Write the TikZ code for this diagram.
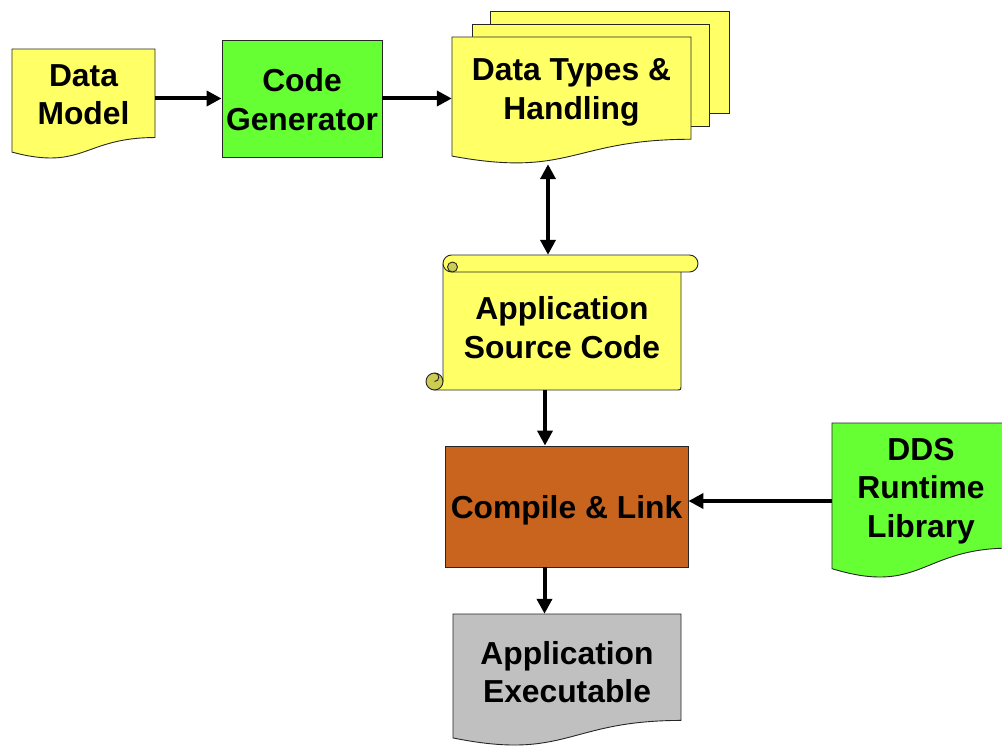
\documentclass[tikz,border=0pt]{standalone}
\usepackage{fontspec}
\setmainfont{Liberation Sans}
\usetikzlibrary{arrows.meta,fit}
\definecolor{docyellow}{HTML}{FFFF66}
\definecolor{cgreen}{HTML}{66FF33}
\definecolor{corange}{HTML}{C8641E}
\definecolor{cgray}{HTML}{C0C0C0}
\definecolor{curlc}{HTML}{CCCC52}
\newcommand\docpath[4]{(#1,#2) -- (#3,#2) -- (#3,{#2+0.802*(#4)}) .. controls ({(#1+#3)/2},{#2+0.802*(#4)}) and ({(#1+#3)/2},{#2+1.1075*(#4)}) .. (#1,{#2+0.934*(#4)}) -- cycle}
\begin{document}
\begin{tikzpicture}[x=1pt,y=-1pt,
  shp/.style={draw=black!85, line width=0.9pt},
  txt/.style={font=\bfseries\fontsize{31.8}{38.5}\selectfont, align=center, inner sep=0pt},
  bnd/.style={inner sep=0pt, draw=none},
  arr/.style={line width=4pt, -{Triangle[length=15pt,width=15pt]}},
  darr/.style={line width=4pt, {Triangle[length=15pt,width=15pt]}-{Triangle[length=15pt,width=15pt]}}]
\useasboundingbox (0,0) rectangle (1002,746);
% Data Model
\draw[shp, fill=docyellow] \docpath{12}{49}{155}{110.4};
\node[bnd, fit={(12,49) (155,158)}] (dmB) {};
\node[txt] (dm) at (83.5,94.5) {Data\\Model};
% Code Generator
\node[shp, fill=cgreen, minimum width=160pt, minimum height=117pt, inner sep=0pt] (cgB) at (302,98.5) {};
\node[txt] (cg) at (302,99.5) {Code\\Generator};
% Data Types & Handling
\draw[shp, fill=docyellow] (490,11) rectangle (729,113);
\draw[shp, fill=docyellow] (472,24) rectangle (709,126);
\draw[shp, fill=docyellow] \docpath{452}{37}{691}{127.5};
\node[bnd, fit={(452,37) (691,164)}] (dtB) {};
\node[txt] (dt) at (571.5,92.5) {Data Types \&\\Handling};
% Application Source Code (scroll)
\draw[shp, fill=docyellow] (443,264) -- (443,381.5) -- (434.5,381.5) -- (434.5,390) -- (676,390) .. controls (681,390) .. (681,385) -- (681,264) -- cycle;
\draw[shp, fill=curlc] (434.5,381.5) circle[radius=8.5];
\draw[shp] (434.5,373) .. controls (440.2,373) and (440.2,381.5) .. (434.5,381.5);
\draw[shp, fill=docyellow, rounded corners=8.5pt] (443,255) rectangle (698,272);
\draw[shp, fill=curlc] (452.5,267) circle[radius=5];
\node[bnd, fit={(426,255) (698,390)}] (srcB) {};
\node[txt] (src) at (562,327.8) {Application\\Source Code};
% Compile & Link
\node[shp, fill=corange, minimum width=243pt, minimum height=121pt, inner sep=0pt] (clB) at (566.5,506.5) {};
\node[txt] (cl) at (566.5,510.5) {Compile \& Link};
% DDS Runtime Library
\draw[shp, fill=cgreen] \docpath{832}{423}{1010}{156};
\node[bnd, fit={(832,423) (1010,577)}] (ddsB) {};
\node[txt] (dds) at (921,491) {DDS\\Runtime\\Library};
% Application Executable
\draw[shp, fill=cgray] \docpath{453}{614}{681}{132.7};
\node[bnd, fit={(453,614) (681,745)}] (exB) {};
\node[txt] (ex) at (567,672) {Application\\Executable};
% connectors
\draw[arr] (dmB.east |- cgB.west) -- (cgB.west);
\draw[arr] (cgB.east) -- (dtB.west |- cgB.east);
\draw[darr] ([xshift=-23.5pt]dtB.south) -- ([xshift=-23.5pt]dtB.south |- srcB.north);
\draw[arr] ([xshift=-21.5pt]clB.north |- srcB.south) -- ([xshift=-21.5pt]clB.north);
\coordinate (clE) at ([yshift=5.5pt]clB.east);
\draw[arr] (ddsB.west |- clE) -- (clE);
\draw[arr] ([xshift=-22.5pt]exB.north |- clB.south) -- ([xshift=-22.5pt]exB.north);
\end{tikzpicture}
\end{document}
